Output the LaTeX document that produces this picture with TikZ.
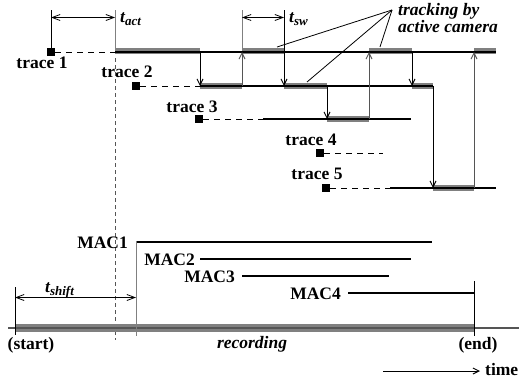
\documentclass[tikz,border=0pt]{standalone}
\usepackage{fontspec}
\setmainfont{Liberation Serif}
\usetikzlibrary{arrows.meta}
\definecolor{barg}{HTML}{808080}
\definecolor{upg}{HTML}{555555}
\newcommand\sbs[1]{\raisebox{-3pt}{\fontsize{13}{13}\selectfont #1}}
\begin{document}
\begin{tikzpicture}[x=1pt,y=-1pt,
  lbl/.style={font=\bfseries\fontsize{17.5}{14}\selectfont, inner sep=0pt, anchor=base},
  ilbl/.style={font=\bfseries\itshape\fontsize{17.5}{14}\selectfont, inner sep=0pt, anchor=base west},
  sq/.style={fill=black, minimum size=8pt, inner sep=0pt},
  trk/.style={line width=1.6pt},
  act/.style={line width=6pt, draw=barg},
  dsh/.style={line width=1pt, dash pattern=on 6pt off 5pt},
  tip/.style={-{Straight Barb[length=6pt,width=6pt]}},
  dim/.style={{Straight Barb[length=8pt,width=6pt]}-{Straight Barb[length=8pt,width=6pt]}, line width=0.8pt},
  dn/.style={tip, line width=1pt},
  upa/.style={tip, line width=1pt, draw=upg},
  thin/.style={line width=1pt},
]
\useasboundingbox (0,0) rectangle (523,380);

% squares
\node[sq] (s1) at (51,52) {};
\node[sq] (s2) at (136,86) {};
\node[sq] (s3) at (199,119) {};
\node[sq] (s4) at (320,153) {};
\node[sq] (s5) at (326,188) {};

% labels of traces
\node[lbl] (l1) at (42,68) {trace 1};
\node[lbl] (l2) at (127,77) {trace 2};
\node[lbl] (l3) at (192,112) {trace 3};
\node[lbl] (l4) at (311,145) {trace 4};
\node[lbl] (l5) at (317,179) {trace 5};

% key coordinates
\coordinate (a0) at (115,10);
\coordinate (a1) at (115,52);

% top verticals
\draw[thin] (51,10) -- (s1);
\draw[thin, barg] (a0) -- (a1);
\draw[thin, barg] (242,10) -- (242,52);
\draw[thin] (284,10) -- (284,52);
\draw[dim] (51,17.5) -- (115,17.5);
\draw[dim] (242,17.5) -- (284,17.5);
\node[ilbl] (tact) at (120,23) {t\sbs{act}};
\node[ilbl] (tsw) at (289,22) {t\sbs{sw}};

% dashed activation line
\draw[line width=0.9pt, dash pattern=on 4pt off 3pt, upg] (115,58) -- (115,340);

% gray bars (active camera)
\draw[act] (115,51) -- (200,51);
\draw[act] (242,51) -- (284,51);
\draw[act] (369,51) -- (412,51);
\draw[act] (474,51) -- (496,51);
\draw[act] (200,86) -- (242,86);
\draw[act] (284,86) -- (327,86);
\draw[act] (412,86) -- (433,86);
\draw[act] (327,119) -- (369,119);
\draw[act] (433,188) -- (474,188);

% trace lines
\draw[dsh] (s1) -- (115,52);
\draw[trk] (115,52) -- (496,52);
\draw[dsh] (s2) -- (200,86);
\draw[trk] (200,86) -- (433,86);
\draw[dsh] (s3) -- (263,119);
\draw[trk] (263,119) -- (411,119);
\draw[dsh] (s4) -- (383,153);
\draw[dsh] (s5) -- (390,188);
\draw[trk] (390,188) -- (496,188);

% switching arrows
\draw[dn] (200,52) -- (200,86);
\draw[upa] (242,86) -- (242,52);
\draw[dn] (284,52) -- (284,86);
\draw[dn] (327,86) -- (327,119);
\draw[upa] (369,119) -- (369,52);
\draw[dn] (412,52) -- (412,86);
\draw[dn] (433,86) -- (433,188);
\draw[upa] (474,188) -- (474,52);

% callout
\coordinate (cp) at (392,10);
\draw[line width=0.8pt] (cp) -- (277,47);
\draw[line width=0.8pt] (cp) -- (307,82);
\draw[line width=0.8pt] (cp) -- (380,47);
\node[ilbl, align=left, anchor=north west] (c1) at (398,3) {tracking by\\active camera};

% MAC lines
\node[lbl, anchor=base east] (m1) at (128,248) {MAC1};
\node[lbl, anchor=base east] (m2) at (195,265) {MAC2};
\node[lbl, anchor=base east] (m3) at (235,282) {MAC3};
\node[lbl, anchor=base east] (m4) at (341,299) {MAC4};
\draw[line width=2pt] (137,241.5) -- (432,241.5);
\draw[line width=2pt] (200,259) -- (411,259);
\draw[line width=2pt] (242,276) -- (389,276);
\draw[line width=2pt] (348,293) -- (474,293);

% recording
\draw[line width=8pt, barg] (15,328) -- (474,328);
\draw[line width=1.2pt, upg] (8,328) -- (519,328);
\draw[thin, barg] (136,241) -- (136,336);
\draw[thin] (474,281) -- (474,336);
\draw[thin] (15,287) -- (15,335);
\draw[dim] (15,297.5) -- (136,297.5);
\node[ilbl] (tsh) at (45,292) {t\sbs{shift}};

\node[lbl] (st) at (31,349) {(start)};
\node[lbl, font=\bfseries\itshape\fontsize{17.5}{14}\selectfont] (rec) at (252,348) {recording};
\node[lbl] (en) at (478,349) {(end)};

\coordinate (ta) at (383,371);
\node[lbl, anchor=base west] (tm) at (485,375) {time};
\draw[tip, line width=1pt] (ta) -- (480,371);
\end{tikzpicture}
\end{document}
